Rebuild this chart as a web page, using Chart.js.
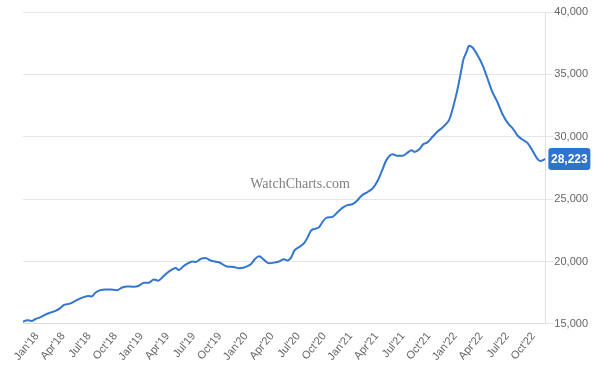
<!DOCTYPE html>
<html>
<head>
<meta charset="utf-8">
<script src="https://cdn.jsdelivr.net/npm/chart.js@4/dist/chart.umd.min.js"></script>
<style>
  html, body { margin: 0; padding: 0; background: #fff; }
  #wrap { width: 600px; height: 368px; }
</style>
</head>
<body>
<div id="wrap"><canvas id="priceChart" width="600" height="368"></canvas></div>
<script>
// dates of the readings (YYYY-MM-DD)
const dates = [
  '2017-11-13', '2017-11-27', '2017-12-13', '2017-12-27', '2018-01-14', '2018-01-31',
  '2018-02-16', '2018-03-05', '2018-03-23', '2018-04-03', '2018-04-21', '2018-05-08',
  '2018-05-26', '2018-06-12', '2018-06-30', '2018-07-09', '2018-07-24', '2018-08-10',
  '2018-08-28', '2018-09-14', '2018-10-07', '2018-10-25', '2018-11-12', '2018-12-05',
  '2018-12-23', '2019-01-10', '2019-01-27', '2019-02-13', '2019-02-27', '2019-03-13',
  '2019-03-31', '2019-04-17', '2019-04-29', '2019-05-10', '2019-05-28', '2019-06-14',
  '2019-06-26', '2019-07-09', '2019-07-26', '2019-08-12', '2019-08-30', '2019-09-28',
  '2019-10-27', '2019-11-19', '2019-12-07', '2019-12-25', '2020-01-18', '2020-02-02',
  '2020-02-16', '2020-03-03', '2020-03-21', '2020-04-13', '2020-04-25', '2020-05-12',
  '2020-05-24', '2020-06-05', '2020-06-18', '2020-07-03', '2020-07-22', '2020-08-02',
  '2020-08-16', '2020-09-01', '2020-09-12', '2020-09-24', '2020-10-09', '2020-10-29',
  '2020-11-16', '2020-12-03', '2020-12-21', '2021-01-08', '2021-01-26', '2021-02-09',
  '2021-02-23', '2021-03-05', '2021-03-20', '2021-04-04', '2021-04-19', '2021-05-05',
  '2021-05-27', '2021-06-13', '2021-06-30', '2021-07-18', '2021-08-01', '2021-08-11',
  '2021-08-29', '2021-09-12', '2021-09-26', '2021-10-14', '2021-11-01', '2021-11-16',
  '2021-12-05', '2021-12-11', '2021-12-26', '2022-01-10', '2022-01-22', '2022-01-30',
  '2022-02-10', '2022-02-18', '2022-03-02', '2022-03-19', '2022-04-06', '2022-04-23',
  '2022-05-10', '2022-05-28', '2022-06-14', '2022-07-05', '2022-07-20', '2022-08-07',
  '2022-08-25', '2022-09-11', '2022-09-28', '2022-10-12', '2022-10-24', '2022-11-12'
];

// price (USD) at each date
const prices = [
  15160, 15300, 15240, 15400, 15540, 15750,
  15910, 16050, 16290, 16510, 16610, 16770,
  16990, 17150, 17230, 17200, 17520, 17710,
  17770, 17760, 17710, 17920, 18010, 17980,
  18060, 18310, 18310, 18570, 18470, 18730,
  19110, 19380, 19490, 19330, 19650, 19890,
  20000, 19970, 20210, 20290, 20080, 19940,
  19600, 19570, 19460, 19520, 19780, 20210,
  20420, 20140, 19860, 19940, 20000, 20190,
  20080, 20270, 20890, 21150, 21480, 21880,
  22500, 22640, 22740, 23150, 23520, 23580,
  23950, 24300, 24520, 24600, 24920, 25300,
  25500, 25650, 25920, 26450, 27260, 28150,
  28600, 28470, 28470, 28730, 28930, 28790,
  29010, 29410, 29550, 30000, 30430, 30710,
  31160, 31350, 32450, 33840, 35190, 36130,
  36800, 37290, 37130, 36530, 35730, 34650,
  33570, 32770, 31830, 31030, 30680, 30080,
  29760, 29490, 28870, 28330, 28060, 28223
];

// x axis labels, one per quarter starting Jan 2018
const tickLabels = [
  "Jan'18", "Apr'18", "Jul'18", "Oct'18", "Jan'19", "Apr'19", "Jul'19", "Oct'19",
  "Jan'20", "Apr'20", "Jul'20", "Oct'20", "Jan'21", "Apr'21", "Jul'21", "Oct'21",
  "Jan'22", "Apr'22", "Jul'22", "Oct'22"
];

const LINE_COLOR = '#3376cf';
const FONT = '"Liberation Sans", Arial, sans-serif';

// months since Jan 2018 (fractional)
function monthPos(s) {
  const [y, m, d] = s.split('-').map(Number);
  const dim = new Date(y, m, 0).getDate();
  return (y - 2018) * 12 + (m - 1) + (d - 1) / dim;
}

const points = dates.map((d, i) => ({ x: monthPos(d), y: prices[i] }));

// watermark in the middle of the canvas
const watermark = {
  id: 'watermark',
  beforeDatasetsDraw(chart) {
    const c = chart.ctx;
    c.save();
    c.font = '14px "Liberation Serif", "Times New Roman", serif';
    c.fillStyle = '#808080';
    c.textAlign = 'center';
    c.textBaseline = 'middle';
    c.fillText('WatchCharts.com', chart.width / 2, 184);
    c.restore();
  }
};

// blue box with the last value on the right axis
const lastValue = {
  id: 'lastValue',
  afterDatasetsDraw(chart) {
    const c = chart.ctx;
    const last = prices[prices.length - 1];
    const y = chart.scales.y.getPixelForValue(last);
    const x = chart.chartArea.right + 3;
    const w = 42, h = 22;
    c.save();
    c.fillStyle = '#2f73d0';
    c.beginPath();
    c.roundRect(x, y - h / 2, w, h, 3);
    c.fill();
    c.fillStyle = '#fff';
    c.font = 'bold 12px ' + FONT;
    c.textAlign = 'center';
    c.textBaseline = 'middle';
    c.fillText(last.toLocaleString('en-US'), x + w / 2, y + 1);
    c.restore();
  }
};

const ctx = document.getElementById('priceChart').getContext('2d');

const priceChart = new Chart(ctx, {
  type: 'line',
  data: {
    datasets: [{
      data: points,
      borderColor: LINE_COLOR,
      borderWidth: 2,
      pointRadius: 0,
      fill: false,
      tension: 0.3,
      cubicInterpolationMode: 'monotone'
    }]
  },
  options: {
    responsive: false,
    animation: false,
    events: [],
    layout: { padding: { top: 12, right: 11, left: 23, bottom: -1 } },
    plugins: {
      legend: { display: false },
      tooltip: { enabled: false }
    },
    scales: {
      x: {
        type: 'linear',
        min: points[0].x,
        max: points[points.length - 1].x,
        afterBuildTicks(scale) {
          scale.ticks = tickLabels.map((l, i) => ({ value: i * 3 }));
        },
        grid: { display: false, drawTicks: false },
        border: { display: true, color: '#dcdcdc' },
        ticks: {
          autoSkip: false,
          minRotation: 50,
          maxRotation: 50,
          padding: 6,
          color: '#666',
          font: { family: FONT, size: 11 },
          callback: (v) => tickLabels[Math.round(v / 3)]
        }
      },
      y: {
        position: 'right',
        min: 15000,
        max: 40000,
        grid: { color: '#e6e6e6', tickLength: 8 },
        border: { display: true, color: '#e0e0e0' },
        ticks: {
          stepSize: 5000,
          padding: 1,
          color: '#666',
          font: { family: FONT, size: 11 },
          callback: (v) => v.toLocaleString('en-US')
        }
      }
    }
  },
  plugins: [watermark, lastValue]
});
</script>
</body>
</html>
